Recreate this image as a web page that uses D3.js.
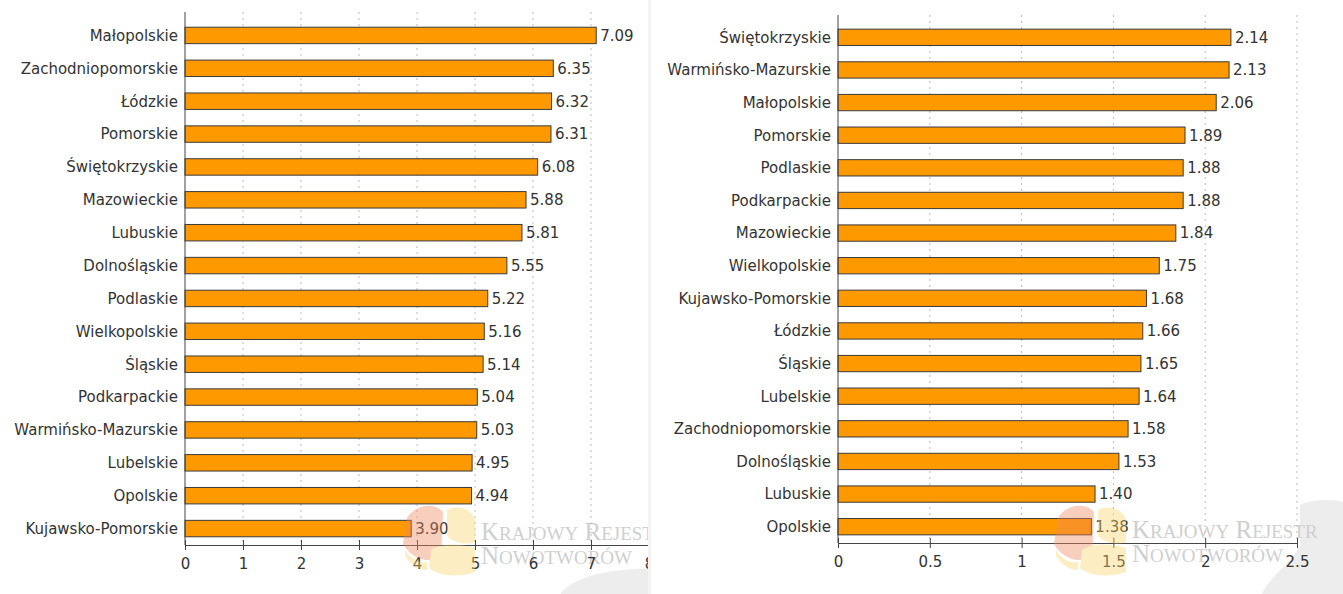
<!DOCTYPE html>
<html><head><meta charset="utf-8">
<script src="https://cdn.jsdelivr.net/npm/d3@7"></script>
<style>
body{margin:0;background:#fff;}
svg{display:block;font-family:"DejaVu Sans",Verdana,sans-serif;}
</style></head><body>
<svg id="c" width="1343" height="594"></svg>
<script>
const leftCategories = ["Małopolskie","Zachodniopomorskie","Łódzkie","Pomorskie","Świętokrzyskie","Mazowieckie","Lubuskie","Dolnośląskie","Podlaskie","Wielkopolskie","Śląskie","Podkarpackie","Warmińsko-Mazurskie","Lubelskie","Opolskie","Kujawsko-Pomorskie"];
const leftValues = [7.09,6.35,6.32,6.31,6.08,5.88,5.81,5.55,5.22,5.16,5.14,5.04,5.03,4.95,4.94,3.90];
const leftTicks = [0,1,2,3,4,5,6,7,8];

const rightCategories = ["Świętokrzyskie","Warmińsko-Mazurskie","Małopolskie","Pomorskie","Podlaskie","Podkarpackie","Mazowieckie","Wielkopolskie","Kujawsko-Pomorskie","Łódzkie","Śląskie","Lubelskie","Zachodniopomorskie","Dolnośląskie","Lubuskie","Opolskie"];
const rightValues = [2.14,2.13,2.06,1.89,1.88,1.88,1.84,1.75,1.68,1.66,1.65,1.64,1.58,1.53,1.40,1.38];
const rightTicks = [0,0.5,1,1.5,2,2.5];

const svg = d3.select("#c");
const defs = svg.append("defs");

function capsText(g, x, y, words){
  const t = g.append("text").attr("x",x).attr("y",y)
    .attr("font-family","'Liberation Serif',serif").attr("fill","#cfcfcf");
  words.forEach((w,i)=>{
    t.append("tspan").attr("font-size",25).text((i?" ":"")+w[0]);
    t.append("tspan").attr("font-size",19).text(w.slice(1));
  });
}

function panel(cfg){
  const id = cfg.id;
  defs.append("clipPath").attr("id","clip"+id).append("rect")
    .attr("x",cfg.px).attr("y",0).attr("width",cfg.pw).attr("height",594);
  const g = svg.append("g").attr("clip-path","url(#clip"+id+")");

  // grey corner shape
  g.append("path").attr("d",cfg.greyPath).attr("fill","#ededed");

  const x = d3.scaleLinear().domain([cfg.ticks[0],cfg.ticks[cfg.ticks.length-1]]).range([cfg.x0,cfg.x1]);
  const y = d3.scaleBand().domain(cfg.categories).range([cfg.y0,cfg.y1]).paddingInner(0.5).paddingOuter(0.25);

  // watermark text (behind)
  capsText(g, cfg.wmX, cfg.wmY, ["KRAJOWY","REJESTR"]);
  capsText(g, cfg.wmX, cfg.wmY+24, ["NOWOTWORÓW"]);

  // grid
  g.append("g").selectAll("line").data(cfg.ticks.slice(1)).join("line")
    .attr("x1",d=>x(d)).attr("x2",d=>x(d)).attr("y1",cfg.axisTop).attr("y2",cfg.y1)
    .attr("stroke","#bdbdbd").attr("stroke-width",1).attr("stroke-dasharray","2,4");

  // bars
  g.append("g").selectAll("rect").data(cfg.values).join("rect")
    .attr("x",x(0)).attr("y",(d,i)=>y(cfg.categories[i]))
    .attr("width",d=>x(d)-x(0)).attr("height",y.bandwidth())
    .attr("fill","#ff9900").attr("stroke","#3a3a3a").attr("stroke-width",1);

  // value labels
  g.append("g").selectAll("text").data(cfg.values).join("text")
    .attr("x",d=>x(d)+4).attr("y",(d,i)=>y(cfg.categories[i])+y.bandwidth()/2)
    .attr("dy","0.36em").attr("font-size",15).attr("fill","#333")
    .text(d=>d.toFixed(2));

  // category labels
  g.append("g").selectAll("text").data(cfg.categories).join("text")
    .attr("x",cfg.x0-7).attr("y",d=>y(d)+y.bandwidth()/2)
    .attr("dy","0.36em").attr("text-anchor","end").attr("font-size",15).attr("fill","#333")
    .text(d=>d);

  // y axis line
  g.append("line").attr("x1",cfg.x0).attr("x2",cfg.x0).attr("y1",cfg.axisTop).attr("y2",cfg.y1)
    .attr("stroke","#444").attr("stroke-width",1);

  // x axis
  const ax = d3.axisBottom(x).tickValues(cfg.ticks).tickSize(5).tickSizeOuter(0).tickFormat(d3.format("~g"));
  const axg = g.append("g").attr("transform",`translate(0,${cfg.y1})`).call(ax);
  axg.select(".domain").attr("stroke","#444");
  axg.selectAll(".tick line").attr("stroke","#444").attr("y1",-5).attr("y2",5);
  axg.selectAll(".tick text").attr("font-size",15).attr("fill","#333").attr("y",10).attr("dy","0.9em")
    .attr("font-family","'DejaVu Sans',Verdana,sans-serif");

  // logo overlay (semi-transparent, on top)
  const lx = cfg.logoX, ly = cfg.logoY;
  const wm = g.append("g").attr("opacity",0.4);
  wm.append("path").attr("d",`M${lx+6},${ly+12} C${lx+14},${ly-2} ${lx+34},${ly-4} ${lx+42},${ly+6} L${lx+40},${ly+52} C${lx+26},${ly+58} ${lx+10},${ly+52} ${lx+2},${ly+38} Z`)
    .attr("fill","#f08a5c");
  wm.append("path").attr("d",`M${lx+46},${ly+4} C${lx+58},${ly-2} ${lx+72},${ly+4} ${lx+74},${ly+14} L${lx+74},${ly+36} C${lx+64},${ly+40} ${lx+52},${ly+36} ${lx+46},${ly+30} Z`)
    .attr("fill","#fbd46a");
  wm.append("path").attr("d",`M${lx+30},${ly+44} C${lx+42},${ly+36} ${lx+60},${ly+38} ${lx+74},${ly+42} L${lx+74},${ly+66} C${lx+56},${ly+72} ${lx+38},${ly+70} ${lx+28},${ly+62} Z`)
    .attr("fill","#fbd46a");
  wm.append("path").attr("d",`M${lx+4},${ly+44} C${lx+10},${ly+54} ${lx+20},${ly+58} ${lx+26},${ly+56} L${lx+26},${ly+64} C${lx+16},${ly+64} ${lx+8},${ly+56} ${lx+4},${ly+50} Z`)
    .attr("fill","#fbd46a");
}

panel({id:"L", px:0, pw:651, categories:leftCategories, values:leftValues, ticks:leftTicks,
  x0:185, x1:649, y0:19, y1:545, axisTop:12,
  logoX:401, logoY:506, wmX:481, wmY:540,
  greyPath:"M560,594 C575,576 605,570 651,568 L651,594 Z"});
panel({id:"R", px:651, pw:692, categories:rightCategories, values:rightValues, ticks:rightTicks,
  x0:838, x1:1297, y0:21, y1:543, axisTop:15,
  logoX:1052, logoY:506, wmX:1132, wmY:538,
  greyPath:"M1262,594 C1270,575 1295,560 1300,545 L1300,505 C1315,498 1335,500 1343,502 L1343,594 Z"});
// divider
svg.append("rect").attr("x",648).attr("y",0).attr("width",3).attr("height",594).attr("fill","#f4f4f4");
</script></body></html>
